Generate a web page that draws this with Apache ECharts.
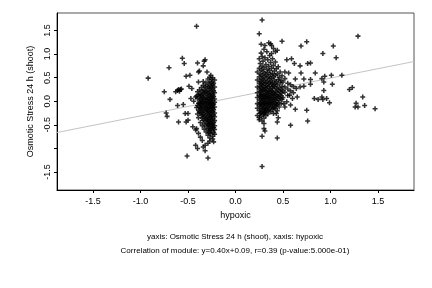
<!DOCTYPE html>
<html><head><meta charset="utf-8">
<script src="https://cdn.jsdelivr.net/npm/echarts@6/dist/echarts.min.js"></script>
<style>html,body{margin:0;padding:0;background:#fff}#c{width:432px;height:288px}</style>
</head><body><div id="c"></div>
<script>
// Scattered points (hypoxic, osmotic)
const leftOutliers = [[-0.41,1.59],[-0.56,0.91],[-0.54,0.80],[-0.70,0.71],[-0.92,0.49],[-0.40,0.81],[-0.32,0.88],[-0.33,0.85],[-0.34,0.75],[-0.38,0.64],[-0.39,0.62],[-0.30,0.62],[-0.48,0.55],[-0.52,0.53],[-0.27,0.51],[-0.25,0.46],[-0.39,0.41],[-0.34,0.42],[-0.60,0.25],[-0.58,0.25],[-0.49,0.32],[-0.46,0.27],
[-0.75,0.20],[-0.69,0.04],[-0.61,0.23],[-0.59,0.21],[-0.57,0.26],[-0.63,0.20],[-0.61,-0.09],[-0.55,-0.07],[-0.73,-0.25],[-0.72,-0.32],[-0.60,-0.44],[-0.52,-0.44],[-0.50,-0.40],[-0.53,-0.26],[-0.50,-0.26],[-0.42,0.09],[-0.44,0.00],[-0.47,0.06],
[-0.45,-0.54],[-0.42,-0.61],[-0.41,-0.58],[-0.39,-0.68],[-0.37,-0.76],[-0.35,-0.83],[-0.42,-0.93],[-0.40,-1.00],[-0.34,-0.97],[-0.32,-0.93],[-0.29,-0.89],[-0.27,-0.84],[-0.24,-0.80],[-0.23,-0.86],[-0.51,-1.16],[-0.32,-1.05],[-0.29,-1.20]];
// Dense left column: [hypoxic, [osmotic values]]
const leftCore = [
[-0.22,[0.45,0.30,0.18,0.05,-0.02,-0.12,-0.25,-0.33,-0.41,-0.52,-0.60,-0.70]],
[-0.23,[0.38,0.22,0.10,-0.06,-0.18,-0.29,-0.45,-0.56,-0.66]],
[-0.24,[0.50,0.35,0.26,0.12,0.02,-0.08,-0.15,-0.22,-0.37,-0.48,-0.55,-0.74]],
[-0.25,[0.40,0.29,0.16,0.07,-0.04,-0.11,-0.20,-0.31,-0.39,-0.50,-0.63]],
[-0.26,[0.55,0.33,0.20,0.09,0.01,-0.07,-0.16,-0.27,-0.35,-0.46,-0.58,-0.69]],
[-0.27,[0.42,0.27,0.14,0.04,-0.05,-0.13,-0.24,-0.32,-0.43,-0.53,-0.62,-0.78]],
[-0.28,[0.36,0.23,0.11,-0.01,-0.09,-0.19,-0.28,-0.40,-0.49,-0.57,-0.67]],
[-0.29,[0.47,0.31,0.17,0.06,-0.03,-0.14,-0.21,-0.34,-0.44,-0.51,-0.61,-0.72]],
[-0.30,[0.28,0.15,0.03,-0.08,-0.17,-0.26,-0.38,-0.47]],
[-0.31,[0.39,0.21,0.08,-0.02,-0.12,-0.23,-0.36,-0.54,-0.65]],
[-0.32,[0.32,0.19,0.05,-0.06,-0.15,-0.30,-0.42]],
[-0.33,[0.25,0.12,0.00,-0.10,-0.20,-0.33,-0.48,-0.59]],
[-0.34,[0.34,0.18,0.07,-0.04,-0.18,-0.28,-0.40]],
[-0.35,[0.22,0.09,-0.01,-0.11,-0.24,-0.36,-0.52]],
[-0.36,[0.29,0.13,0.02,-0.07,-0.16,-0.30]],
[-0.37,[0.16,0.04,-0.05,-0.14,-0.25,-0.45]],
[-0.38,[0.24,0.10,-0.02,-0.12,-0.22]],
[-0.39,[0.14,-0.04,-0.19,-0.35]],
[-0.40,[0.20,0.06,-0.09,-0.27]],
[-0.41,[0.11,-0.13]]];
const rightOutliers = [[0.28,1.72],[0.25,1.43],[0.27,1.21],[0.31,1.18],[0.35,1.24],[0.37,1.22],[0.38,1.18],[0.49,1.27],[0.69,1.17],[0.75,1.26],[0.92,1.01],[0.40,1.12],[0.42,1.05],[0.44,1.08],[0.38,1.01],[0.54,0.88],[0.59,0.90],[0.62,0.80],[0.76,0.80],[0.79,0.81],[0.68,0.75],[0.69,0.60],[0.84,0.60],[0.52,0.62],[0.56,0.60],[0.91,0.48],[0.94,0.53],[0.63,0.47],[0.72,0.47],[0.79,0.46],
[1.29,1.38],[1.03,1.17],[1.06,0.92],[1.12,0.55],[1.01,0.55],[1.02,0.36],[1.20,0.25],[1.23,0.29],[1.34,0.09],[1.27,-0.04],[1.26,-0.12],[1.29,-0.12],[1.36,-0.09],[1.47,-0.16],[0.99,-0.03],
[0.28,-1.38],[0.44,-0.78],[0.28,-0.74],[0.30,-0.58],[0.31,-0.63],[0.30,-0.47],[0.25,-0.39],[0.58,-0.51],[0.44,-0.44],[0.45,-0.35],[0.76,-0.42],[0.75,-0.19],[0.63,-0.17],[0.72,0.32],[0.83,0.06],[0.87,0.04],[0.92,0.04],[0.91,0.09],[0.96,0.06],[0.93,0.23],
[0.68,0.30],[0.79,0.36],[0.93,0.41],[0.57,0.13],[0.60,0.06],[0.65,0.09],[0.51,-0.05],[0.54,-0.01],[0.58,-0.08],[0.52,-0.12],[0.40,-0.26],[0.43,-0.26],[0.26,-0.25],[0.30,-0.26],[0.31,-0.23]];
const rightCore = [
[0.23,[0.62,0.45,0.30,0.18,0.08,-0.05,-0.15,-0.30]],
[0.25,[0.90,0.70,0.52,0.38,0.26,0.12,0.02,-0.08,-0.20,-0.35]],
[0.26,[0.80,0.58,0.42,0.31,0.20,0.10,-0.03,-0.12,-0.26]],
[0.27,[1.02,0.66,0.48,0.35,0.22,0.14,0.05,-0.06,-0.18,-0.32]],
[0.28,[0.95,0.74,0.55,0.40,0.28,0.16,0.07,-0.01,-0.10,-0.22,-0.42]],
[0.29,[0.85,0.63,0.46,0.33,0.24,0.11,0.03,-0.07,-0.16,-0.28]],
[0.30,[1.10,0.71,0.52,0.37,0.25,0.13,0.04,-0.04,-0.14,-0.24,-0.36]],
[0.31,[0.92,0.60,0.44,0.29,0.19,0.09,-0.02,-0.11,-0.21]],
[0.32,[0.78,0.56,0.39,0.27,0.15,0.06,-0.05,-0.17,-0.30]],
[0.33,[1.05,0.68,0.50,0.34,0.21,0.10,0.00,-0.09,-0.19]],
[0.34,[0.88,0.61,0.43,0.30,0.17,0.07,-0.04,-0.13,-0.27]],
[0.35,[0.74,0.53,0.38,0.23,0.12,0.02,-0.08,-0.20]],
[0.36,[0.97,0.65,0.47,0.32,0.20,0.08,-0.03,-0.15]],
[0.37,[0.82,0.57,0.41,0.26,0.14,0.04,-0.07,-0.22]],
[0.38,[0.70,0.49,0.36,0.22,0.11,-0.01,-0.12]],
[0.39,[0.90,0.59,0.40,0.28,0.16,0.05,-0.06,-0.18]],
[0.40,[0.76,0.52,0.33,0.19,0.08,-0.02,-0.14]],
[0.41,[0.64,0.45,0.31,0.15,0.03,-0.10]],
[0.42,[0.83,0.55,0.37,0.21,0.09,-0.04,-0.16]],
[0.43,[0.69,0.42,0.27,0.13,0.01,-0.09]],
[0.44,[0.58,0.35,0.18,0.06,-0.07,-0.20]],
[0.45,[0.73,0.46,0.24,0.10,-0.03]],
[0.46,[0.51,0.29,0.14,0.02,-0.12]],
[0.47,[0.62,0.39,0.20,0.07]],
[0.48,[0.44,0.25,0.11,-0.05]],
[0.49,[0.54,0.32,0.17,0.04]],
[0.50,[0.41,0.23,0.08]],
[0.52,[0.48,0.30,0.19]],
[0.55,[0.38,0.26,0.12]],
[0.58,[0.35,0.22]],
[0.61,[0.31,0.18]],
[0.64,[0.27]]];

const xTicks = [-1.5,-1.0,-0.5,0.0,0.5,1.0,1.5];
const yTicks = [-1.5,-1.0,-0.5,0.0,0.5,1.0,1.5];
const yTickLabels = [-1.5,-0.5,0.0,0.5,1.0,1.5];
const fitSlope = 0.40, fitIntercept = 0.09;
const xRange = [-1.88, 1.88];
const yRange = [-1.88, 1.87];
const xTitle = 'hypoxic';
const yTitle = 'Osmotic Stress 24 h (shoot)';
const caption1 = 'yaxis: Osmotic Stress 24 h (shoot), xaxis: hypoxic';
const caption2 = 'Correlation of module: y=0.40x+0.09, r=0.39 (p-value:5.000e-01)';

const expand = core => core.flatMap(([x, ys]) => ys.map(y => [x, y]));
const points = leftOutliers.concat(expand(leftCore), rightOutliers, expand(rightCore));
const fitLine = xRange.map(x => [x, fitIntercept + fitSlope * x]);

const FONT = '"Liberation Sans", Arial, sans-serif';
const chart = echarts.init(document.getElementById('c'), null, {renderer: 'canvas'});
chart.setOption({
  animation: false,
  backgroundColor: '#fff',
  grid: {left: 57, right: 18, top: 13, bottom: 98, show: true, borderColor: '#555', borderWidth: 1, backgroundColor: 'transparent'},
  xAxis: {
    type: 'value', min: xRange[0], max: xRange[1],
    name: xTitle, nameLocation: 'middle', nameGap: 20,
    nameTextStyle: {color: '#000', fontFamily: FONT, fontSize: 9},
    axisLine: {show: true, onZero: false, lineStyle: {color: '#000', width: 1}},
    axisTick: {show: true, length: 3, inside: false, customValues: xTicks, lineStyle: {color: '#000'}},
    axisLabel: {customValues: xTicks, margin: 7, color: '#000', fontFamily: FONT, fontSize: 9, formatter: v => v.toFixed(1)},
    splitLine: {show: false}
  },
  yAxis: {
    type: 'value', min: yRange[0], max: yRange[1],
    name: yTitle, nameLocation: 'middle', nameGap: 17, nameRotate: 90,
    nameTextStyle: {color: '#000', fontFamily: FONT, fontSize: 9},
    axisLine: {show: true, onZero: false, lineStyle: {color: '#000', width: 1}},
    axisTick: {show: true, length: 3, customValues: yTicks, lineStyle: {color: '#000'}},
    axisLabel: {customValues: yTickLabels, rotate: 90, margin: 5, color: '#000', fontFamily: FONT, fontSize: 9, formatter: v => v.toFixed(1)},
    splitLine: {show: false}
  },
  series: [
    {type: 'line', data: fitLine, symbol: 'none', lineStyle: {color: '#c4c4c4', width: 1}, z: 1, silent: true},
    {type: 'scatter', data: points, symbol: 'path://M4.5,0H8.5V4.5H13V8.5H8.5V13H4.5V8.5H0V4.5H4.5Z', symbolSize: 5,
     itemStyle: {color: '#000'}, z: 2, silent: true}
  ],
  graphic: [
    {type: 'text', x: 235, y: 237, style: {text: caption1, textAlign: 'center', textVerticalAlign: 'middle', font: '8px ' + FONT, fill: '#000'}},
    {type: 'text', x: 235, y: 251, style: {text: caption2, textAlign: 'center', textVerticalAlign: 'middle', font: '8px ' + FONT, fill: '#000'}}
  ]
});
</script></body></html>
